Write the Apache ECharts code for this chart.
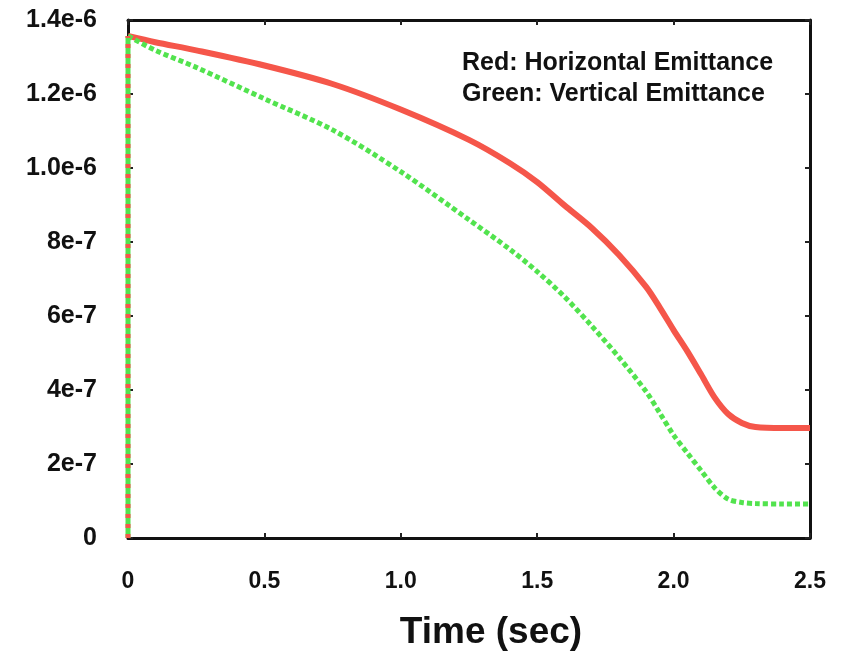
<!DOCTYPE html>
<html>
<head>
<meta charset="utf-8">
<script src="https://cdn.jsdelivr.net/npm/echarts@6/dist/echarts.min.js"></script>
<style>
  html, body { margin: 0; padding: 0; background: #fff; }
  #chart { width: 842px; height: 657px; }
</style>
</head>
<body>
<div id="chart"></div>
<script>
// time in seconds
const timeSec = [0, 0, 0.1, 0.25, 0.5, 0.75, 1.0, 1.25, 1.4, 1.5, 1.6, 1.7, 1.8, 1.9, 1.95, 2.0, 2.05, 2.1, 2.15, 2.2, 2.25, 2.3, 2.4, 2.5];
// emittance values
const horizontalEmit = [0, 1.357e-6, 1.34e-6, 1.318e-6, 1.277e-6, 1.227e-6, 1.158e-6, 1.076e-6, 1.013e-6, 0.962e-6, 0.899e-6, 0.838e-6, 0.765e-6, 0.678e-6, 0.622e-6, 0.562e-6, 0.505e-6, 0.443e-6, 0.38e-6, 0.335e-6, 0.311e-6, 0.300e-6, 0.297e-6, 0.297e-6];
const verticalEmit = [0, 1.357e-6, 1.318e-6, 1.272e-6, 1.187e-6, 1.103e-6, 0.99e-6, 0.86e-6, 0.78e-6, 0.72e-6, 0.652e-6, 0.573e-6, 0.488e-6, 0.395e-6, 0.337e-6, 0.278e-6, 0.23e-6, 0.183e-6, 0.136e-6, 0.105e-6, 0.096e-6, 0.093e-6, 0.092e-6, 0.092e-6];
const xTicks = ['0', '0.5', '1.0', '1.5', '2.0', '2.5'];
const yTicks = ['0', '2e-7', '4e-7', '6e-7', '8e-7', '1.0e-6', '1.2e-6', '1.4e-6'];
const legendLines = ['Red: Horizontal Emittance', 'Green: Vertical Emittance'];

const font = 'Liberation Sans';
const red = '#f5564a';
const green = '#52e34e';
const chart = echarts.init(document.getElementById('chart'));

const axisLine = { show: true, onZero: false, lineStyle: { color: '#111', width: 3 } };
const tick = { show: true, inside: true, length: 5, lineStyle: { color: '#222', width: 2 } };

const pts = arr => timeSec.map((t, i) => [t, arr[i]]);

chart.setOption({
  animation: false,
  backgroundColor: '#fff',
  grid: { left: 128, right: 32, top: 20, bottom: 119 },
  xAxis: [
    {
      type: 'value',
      min: 0,
      max: 2.5,
      interval: 0.5,
      name: 'Time (sec)',
      nameLocation: 'middle',
      nameGap: 76,
      nameTextStyle: { fontFamily: font, fontSize: 37, fontWeight: 'bold', color: '#111', padding: [0, 0, 0, 44] },
      axisLine: axisLine,
      axisTick: tick,
      splitLine: { show: false },
      axisLabel: {
        margin: 32,
        fontFamily: font,
        fontSize: 23,
        fontWeight: 'bold',
        color: '#111',
        formatter: v => xTicks[Math.round(v / 0.5)]
      }
    },
    {
      type: 'value',
      position: 'top',
      min: 0,
      max: 2.5,
      interval: 0.5,
      axisLine: axisLine,
      axisTick: tick,
      axisLabel: { show: false },
      splitLine: { show: false }
    }
  ],
  yAxis: [
    {
      type: 'value',
      min: 0,
      max: 1.4e-6,
      interval: 2e-7,
      axisLine: axisLine,
      axisTick: tick,
      splitLine: { show: false },
      axisLabel: {
        margin: 31,
        fontFamily: font,
        fontSize: 25,
        fontWeight: 'bold',
        color: '#111',
        formatter: v => yTicks[Math.round(v / 2e-7)]
      }
    },
    {
      type: 'value',
      position: 'right',
      min: 0,
      max: 1.4e-6,
      interval: 2e-7,
      axisLine: axisLine,
      axisTick: tick,
      axisLabel: { show: false },
      splitLine: { show: false }
    }
  ],
  graphic: legendLines.map((t, i) => ({
    type: 'text',
    left: 462,
    top: 51 + i * 31,
    style: { text: t, fontFamily: font, fontSize: 25, fontWeight: 'bold', fill: '#111' }
  })),
  series: [
    {
      name: 'Horizontal',
      type: 'line',
      data: pts(horizontalEmit).slice(1),
      showSymbol: false,
      smooth: 0.3,
      lineStyle: { color: red, width: 6 },
      z: 2
    },
    {
      name: 'Vertical',
      type: 'line',
      data: pts(verticalEmit).slice(1),
      showSymbol: false,
      smooth: 0.3,
      lineStyle: { color: green, width: 5, type: [5, 3] },
      z: 3
    },
    {
      // the step at t = 0, drawn for both curves
      name: 'Vertical rise',
      type: 'line',
      data: pts(verticalEmit).slice(0, 2),
      showSymbol: false,
      lineStyle: { color: green, width: 5 },
      z: 2
    },
    {
      name: 'Horizontal rise',
      type: 'line',
      data: pts(horizontalEmit).slice(0, 2),
      showSymbol: false,
      lineStyle: { color: red, width: 5, type: [4, 6] },
      z: 3
    }
  ]
});
</script>
</body>
</html>
